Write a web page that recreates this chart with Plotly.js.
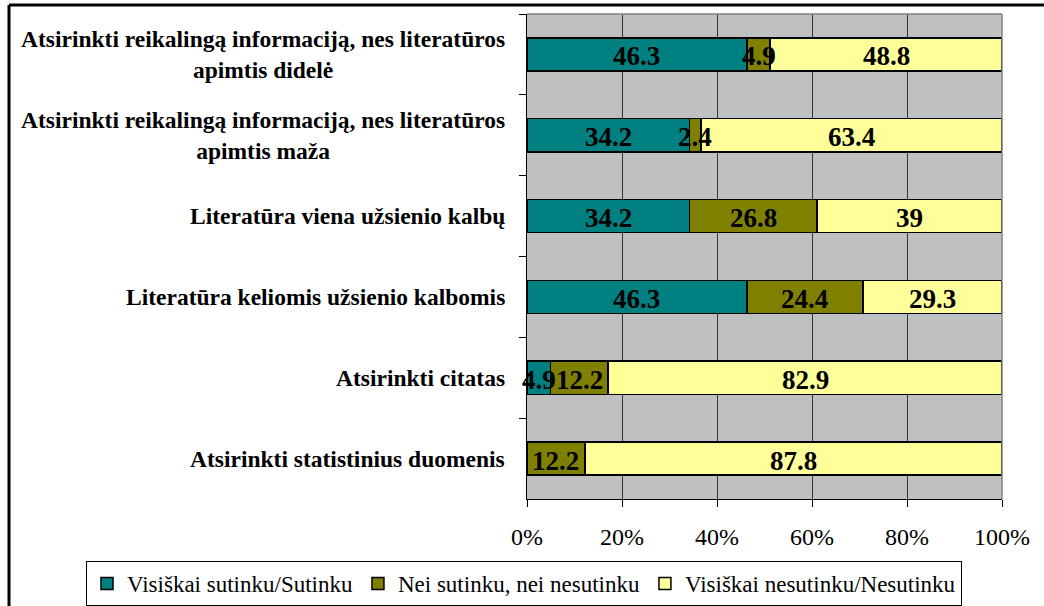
<!DOCTYPE html>
<html>
<head>
<meta charset="utf-8">
<script src="https://cdn.plot.ly/plotly-3.0.1.min.js"></script>
<style>
html,body{margin:0;padding:0;background:#fff;}
#chart{width:1044px;height:606px;}
</style>
</head>
<body>
<div id="chart"></div>
<script>
const categories = [
  "Atsirinkti reikalingą informaciją, nes literatūros<br>apimtis didelė",
  "Atsirinkti reikalingą informaciją, nes literatūros<br>apimtis maža",
  "Literatūra viena užsienio kalbų",
  "Literatūra keliomis užsienio kalbomis",
  "Atsirinkti citatas",
  "Atsirinkti statistinius duomenis"
];
const seriesNames = ["Visiškai sutinku/Sutinku", "Nei sutinku, nei nesutinku", "Visiškai nesutinku/Nesutinku"];
const agree    = [46.3, 34.2, 34.2, 46.3, 4.9, 0];
const neutral  = [4.9, 2.4, 26.8, 24.4, 12.2, 12.2];
const disagree = [48.8, 63.4, 39, 29.3, 82.9, 87.8];
const xTickVals = [0, 20, 40, 60, 80, 100];
const xTickText = ["0%", "20%", "40%", "60%", "80%", "100%"];

const colors = ["#008080", "#808000", "#FFFF99"];
const serif = "Liberation Serif";
const seriesVals = [agree, neutral, disagree];

const traces = seriesVals.map((vals, i) => ({
  type: "bar",
  orientation: "h",
  name: seriesNames[i],
  y: categories,
  x: vals,
  marker: {color: colors[i], line: {color: "#000", width: 1.5}},
  hoverinfo: "skip"
}));

const annotations = categories.map(c => ({
  x: 0, xref: "paper", xanchor: "right", xshift: -20,
  y: c, yref: "y", yanchor: "middle",
  text: "<b>" + c + "</b>",
  align: "center",
  showarrow: false,
  font: {family: serif, size: 23.5, color: "#000"}
}));

// data labels centred on each segment, positioned through the x axis
categories.forEach((c, k) => {
  let cum = 0;
  seriesVals.forEach(vals => {
    const v = vals[k];
    if (v !== 0) {
      annotations.push({
        x: cum + v / 2, xref: "x", y: c, yref: "y",
        xanchor: "center", yanchor: "middle", yshift: -2,
        text: "<b>" + v + "</b>",
        showarrow: false,
        font: {family: serif, size: 27, color: "#000"}
      });
    }
    cum += v;
  });
});

const L = 527, R = 1002, T = 14, B = 499;
const pw = R - L, ph = B - T;
const px = v => (v - L) / pw;
const py = v => (B - v) / ph;

const layout = {
  width: 1044, height: 606,
  margin: {l: L, r: 1044 - R, t: T, b: 606 - B, pad: 0, autoexpand: false},
  paper_bgcolor: "#fff",
  plot_bgcolor: "#C0C0C0",
  barmode: "stack",
  bargap: 0.59,
  showlegend: true,
  legend: {
    orientation: "h",
    xref: "paper", yref: "paper",
    x: px(86), xanchor: "left",
    y: py(561), yanchor: "top",
    bordercolor: "#000", borderwidth: 1, bgcolor: "#fff",
    font: {family: serif, size: 23, color: "#000"},
    traceorder: "normal"
  },
  xaxis: {
    range: [0, 100],
    tickvals: xTickVals, ticktext: xTickText,
    showgrid: true, gridcolor: "#333", gridwidth: 1,
    zeroline: false,
    showline: true, linecolor: "#000", linewidth: 1,
    ticks: "outside", ticklen: 7, tickcolor: "#000",
    ticklabelstandoff: 9,
    tickfont: {family: serif, size: 24, color: "#000"},
    fixedrange: true
  },
  yaxis: {
    type: "category",
    autorange: "reversed",
    showticklabels: false,
    showgrid: false, zeroline: false,
    showline: true, linecolor: "#000", linewidth: 1,
    ticks: "outside", ticklen: 7, tickcolor: "#000",
    tickson: "boundaries",
    fixedrange: true
  },
  annotations: annotations,
  shapes: [
    {type: "line", xref: "paper", yref: "paper", x0: 1, x1: 1, y0: 0, y1: 1, line: {color: "#808080", width: 1.5}},
    {type: "line", xref: "paper", yref: "paper", x0: 0, x1: 1, y0: 1, y1: 1, line: {color: "#808080", width: 1.5}},
    {type: "line", xref: "paper", yref: "paper", x0: px(9), x1: px(1060), y0: py(5), y1: py(5), line: {color: "#000", width: 3}},
    {type: "line", xref: "paper", yref: "paper", x0: px(9), x1: px(9), y0: py(5), y1: -1, line: {color: "#000", width: 3}}
  ]
};

Plotly.newPlot("chart", traces, layout, {displayModeBar: false, staticPlot: true});
</script>
</body>
</html>
